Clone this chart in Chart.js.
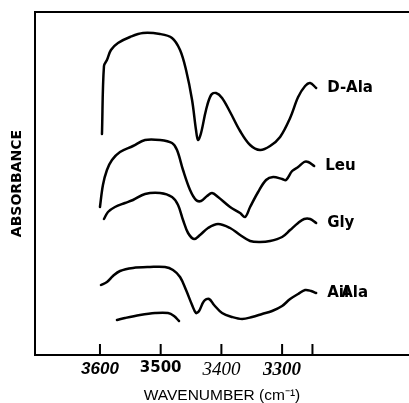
<!DOCTYPE html>
<html>
<head>
<meta charset="utf-8">
<script src="https://cdn.jsdelivr.net/npm/chart.js@4.4.1/dist/chart.umd.min.js"></script>
<style>
  body { margin: 0; background: #fff; }
  #wrap { width: 409px; height: 403px; }
</style>
</head>
<body>
<div id="wrap"><canvas id="irChart" width="409" height="403"></canvas></div>
<script>
// wavenumber (cm-1) and absorbance (arbitrary units)
const dAlaWn  = [3596.7, 3593.4, 3588.5, 3581.9, 3570.3, 3550.5, 3529.1, 3501.1, 3481.3, 3468.1, 3458.2, 3448.3, 3441.8, 3438.5, 3433.5, 3425.3, 3417.0, 3408.8, 3398.9, 3385.7, 3369.2, 3352.7, 3336.3, 3319.8, 3303.3, 3286.8, 3273.6, 3262.1, 3253.8, 3243.9];
const dAlaAbs = [221, 289, 295, 305, 312, 318, 322, 321, 317, 305, 285, 255, 225, 215, 222, 245, 260, 262, 257, 243, 224, 210, 205, 209, 218, 237, 258, 269, 272, 267];

const leuWn  = [3600.0, 3595.1, 3588.5, 3580.2, 3567.0, 3545.6, 3525.8, 3501.1, 3481.3, 3473.1, 3463.2, 3451.6, 3441.8, 3433.5, 3423.6, 3415.4, 3405.5, 3385.7, 3369.2, 3361.0, 3352.7, 3339.5, 3326.4, 3314.8, 3300.0, 3293.4, 3283.5, 3273.6, 3263.7, 3257.1, 3247.2];
const leuAbs = [148, 170, 185, 195, 203, 209, 215, 215, 212, 205, 185, 165, 155, 154, 159, 162, 158, 148, 142, 138, 148, 163, 175, 178, 176, 175, 184, 188, 193, 193, 189];

const glyWn  = [3593.4, 3586.8, 3575.3, 3558.8, 3545.6, 3525.8, 3501.1, 3481.3, 3471.4, 3463.2, 3454.9, 3445.0, 3435.2, 3422.0, 3405.5, 3385.7, 3369.2, 3352.7, 3336.3, 3319.8, 3300.0, 3286.8, 3273.6, 3263.7, 3253.8, 3243.9];
const glyAbs = [136, 143, 148, 152, 155, 161, 162, 158, 150, 135, 122, 116, 120, 127, 131, 127, 120, 114, 113, 114, 118, 125, 132, 136, 136, 132];

const alaWn  = [3598.4, 3588.5, 3578.6, 3567.0, 3545.6, 3517.6, 3492.9, 3479.7, 3468.1, 3458.2, 3448.3, 3441.8, 3436.8, 3428.6, 3420.3, 3412.1, 3398.9, 3382.4, 3365.9, 3349.4, 3332.9, 3316.5, 3300.0, 3286.8, 3273.6, 3262.1, 3252.2, 3243.9];
const alaAbs = [70, 73, 79, 84, 87, 88, 88, 85, 78, 65, 50, 42, 44, 54, 56, 50, 42, 38, 36, 38, 41, 44, 49, 56, 61, 65, 64, 62];

const partWn  = [3572.0, 3558.8, 3534.1, 3509.3, 3487.9, 3478.0, 3469.8];
const partAbs = [35, 37, 40, 42, 42, 39, 34];

const seriesLabels = [['D-Ala'], ['Leu'], ['Gly'], ['Ail', 'Ala'], []];

const tickValues = [3600, 3500, 3400, 3300, 3250];
const tickLabels = ['3600', '3500', '3400', '3300', ''];

const tickFonts = [
    { family: '"Liberation Sans", Arial, sans-serif', size: 17, style: 'italic', weight: 'bold', lineHeight: 1.2 },
    { family: '"DejaVu Sans", sans-serif', size: 15, weight: 'bold', lineHeight: 1.2 },
    { family: '"Liberation Serif", serif', size: 19, style: 'italic', weight: 'normal', lineHeight: 1.2 },
    { family: '"Liberation Serif", serif', size: 19, style: 'italic', weight: 'bold', lineHeight: 1.2 },
    { family: '"Liberation Sans", sans-serif', size: 15, lineHeight: 1.2 }
];

const toPoints = (xs, ys) => xs.map((x, i) => ({ x: x, y: ys[i] }));

const lineStyle = {
    borderColor: '#000',
    borderWidth: 2.5,
    pointRadius: 0,
    tension: 0.35,
    fill: false,
    borderCapStyle: 'round',
    borderJoinStyle: 'round'
};

// top edge of the frame + inward tick marks + curve names
const framePlugin = {
    id: 'frame',
    afterDraw(chart) {
        const { ctx, chartArea } = chart;
        const xs = chart.scales.x;
        ctx.save();
        ctx.strokeStyle = '#000';
        ctx.lineWidth = 2;
        ctx.beginPath();
        ctx.moveTo(chartArea.left - 1, chartArea.top);
        ctx.lineTo(chartArea.right, chartArea.top);
        xs.ticks.forEach(t => {
            const px = xs.getPixelForValue(t.value);
            ctx.moveTo(px, chartArea.bottom);
            ctx.lineTo(px, chartArea.bottom - 11);
        });
        ctx.stroke();

        ctx.fillStyle = '#000';
        ctx.font = 'bold 15px "DejaVu Sans", sans-serif';
        ctx.textBaseline = 'middle';
        chart.data.datasets.forEach((ds, i) => {
            const pts = chart.getDatasetMeta(i).data;
            const last = pts[pts.length - 1];
            seriesLabels[i].forEach((txt, j) => {
                ctx.fillText(txt, last.x + 11 + j * 14, last.y);
            });
        });
        ctx.restore();
    }
};

document.addEventListener('DOMContentLoaded', function () {
    const ctx = document.getElementById('irChart').getContext('2d');
    new Chart(ctx, {
        type: 'line',
        data: {
            datasets: [
                { ...lineStyle, label: 'D-Ala', data: toPoints(dAlaWn, dAlaAbs) },
                { ...lineStyle, label: 'Leu', data: toPoints(leuWn, leuAbs) },
                { ...lineStyle, label: 'Gly', data: toPoints(glyWn, glyAbs) },
                { ...lineStyle, label: 'Ala', data: toPoints(alaWn, alaAbs) },
                { ...lineStyle, label: '', data: toPoints(partWn, partAbs) }
            ]
        },
        options: {
            responsive: false,
            animation: false,
            layout: { padding: { top: 12, right: 0, bottom: 0, left: 0 } },
            plugins: {
                legend: { display: false },
                tooltip: { enabled: false }
            },
            scales: {
                x: {
                    type: 'linear',
                    reverse: true,
                    min: 3091,
                    max: 3707,
                    afterBuildTicks: s => { s.ticks = tickValues.map(v => ({ value: v })); },
                    afterFit: s => { s.height = 48; },
                    grid: { display: false, drawTicks: false },
                    border: { color: '#000', width: 2 },
                    ticks: {
                        autoSkip: false,
                        maxRotation: 0,
                        padding: 4,
                        color: '#000',
                        font: c => tickFonts[c.index],
                        callback: (v, i) => tickLabels[i]
                    },
                    title: {
                        display: true,
                        text: 'WAVENUMBER (cm⁻¹)',
                        color: '#000',
                        padding: 0,
                        font: { family: '"Liberation Sans", Arial, sans-serif', size: 15.5, lineHeight: 1 }
                    }
                },
                y: {
                    min: 0,
                    max: 343,
                    afterFit: s => { s.width = 35; },
                    grid: { display: false, drawTicks: false },
                    border: { color: '#000', width: 2 },
                    ticks: { display: false },
                    title: {
                        display: true,
                        text: 'ABSORBANCE',
                        color: '#000',
                        padding: { top: 9, bottom: 0 },
                        font: { family: '"DejaVu Sans", sans-serif', size: 14, weight: 'bold', lineHeight: 1.2 }
                    }
                }
            }
        },
        plugins: [framePlugin]
    });
});
</script>
</body>
</html>
